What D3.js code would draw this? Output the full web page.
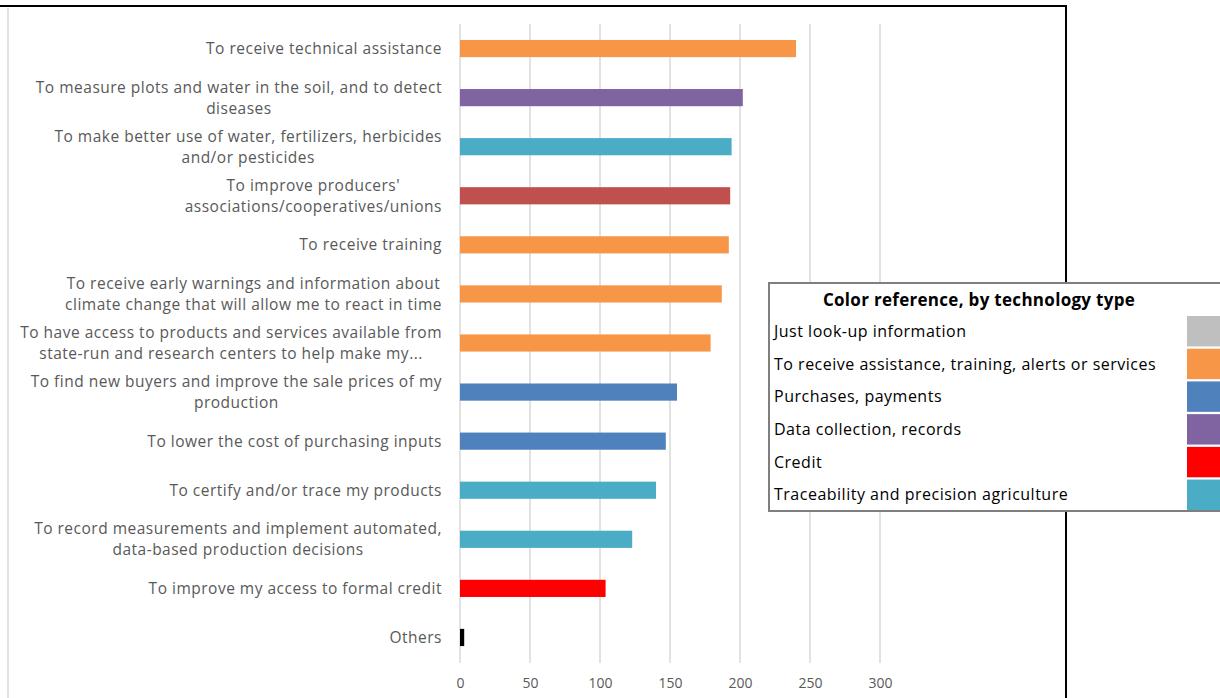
<!DOCTYPE html>
<html>
<head>
<meta charset="utf-8">
<script src="https://cdn.jsdelivr.net/npm/d3@7"></script>
<style>
  html, body { margin: 0; padding: 0; background: #fff; overflow: hidden; }
  svg { display: block; }
  text { font-family: "Open Sans", "Noto Sans", sans-serif; }
</style>
</head>
<body>
<svg id="chart" width="1220" height="698"></svg>
<script>
// Purposes for using digital technology (one entry per bar, top to bottom)
const categories = [
  ["To receive technical assistance"],
  ["To measure plots and water in the soil, and to detect", "diseases"],
  ["To make better use of water, fertilizers, herbicides", "and/or pesticides"],
  ["To improve producers'", "associations/cooperatives/unions"],
  ["To receive training"],
  ["To receive early warnings and information about", "climate change that will allow me to react in time"],
  ["To have access to products and services available from", "state-run and research centers to help make my..."],
  ["To find new buyers and improve the sale prices of my", "production"],
  ["To lower the cost of purchasing inputs"],
  ["To certify and/or trace my products"],
  ["To record measurements and implement automated,", "data-based production decisions"],
  ["To improve my access to formal credit"],
  ["Others"]
];
const values = [240, 202, 194, 193, 192, 187, 179, 155, 147, 140, 123, 104, 3];
const barTypes = ["assist", "data", "trace", "assoc", "assist", "assist", "assist",
                  "purchase", "purchase", "trace", "trace", "credit", "other"];

const xTicks = [0, 50, 100, 150, 200, 250, 300];

// Legend: technology types
const legendLabels = [
  "Just look-up information",
  "To receive assistance, training, alerts or services",
  "Purchases, payments",
  "Data collection, records",
  "Credit",
  "Traceability and precision agriculture"
];
const legendKeys = ["lookup", "assist", "purchase", "data", "credit", "trace"];

const palette = {
  lookup: "#bfbfbf",
  assist: "#f79646",
  purchase: "#4f81bd",
  data: "#8064a2",
  credit: "#ff0000",
  trace: "#4bacc6",
  assoc: "#c0504d",
  other: "#000000"
};

const svg = d3.select("#chart");

const x = d3.scaleLinear().domain([0, 300]).range([460, 880]);
const y = d3.scaleBand().domain(d3.range(categories.length)).range([24, 662]).paddingInner(0.65).paddingOuter(0.325);

// outer frame lines
svg.append("line").attr("x1", 0).attr("x2", 1067).attr("y1", 6).attr("y2", 6)
  .attr("stroke", "#000").attr("stroke-width", 2);
svg.append("line").attr("x1", 1066).attr("x2", 1066).attr("y1", 5).attr("y2", 698)
  .attr("stroke", "#000").attr("stroke-width", 2);
svg.append("line").attr("x1", 8).attr("x2", 8).attr("y1", 8).attr("y2", 698)
  .attr("stroke", "#d9d9d9").attr("stroke-width", 1.5);

// vertical gridlines
svg.append("g").selectAll("line").data(xTicks).join("line")
  .attr("x1", d => x(d)).attr("x2", d => x(d))
  .attr("y1", 24).attr("y2", 663)
  .attr("stroke", "#d9d9d9").attr("stroke-width", 1.5);

// x axis tick labels
const xAxis = d3.axisBottom(x).tickValues(xTicks).tickSize(0).tickPadding(0);
const gx = svg.append("g").attr("transform", "translate(0,678)").call(xAxis);
gx.select(".domain").remove();
gx.selectAll("text").attr("fill", "#595959").style("font-size", "14px")
  .style("font-family", "'Open Sans', 'Noto Sans', sans-serif");

// bars
svg.append("g").selectAll("rect").data(values).join("rect")
  .attr("x", x(0))
  .attr("y", (d, i) => y(i))
  .attr("width", d => x(d) - x(0))
  .attr("height", y.bandwidth())
  .attr("fill", (d, i) => palette[barTypes[i]]);

// category labels: block centred on its widest line, right-aligned to the axis
const labelRight = 442;
const lineGap = 21;
const labels = svg.append("g");
categories.forEach((lines, i) => {
  const cy = y(i) + y.bandwidth() / 2;
  const g = labels.append("g");
  const texts = lines.map((t, k) => g.append("text")
    .attr("y", cy + (k - (lines.length - 1) / 2) * lineGap)
    .attr("dy", "0.35em")
    .attr("text-anchor", "middle")
    .attr("fill", "#595959")
    .style("font-size", "15.5px")
    .style("letter-spacing", "0.5px")
    .text(t));
  const maxW = d3.max(texts, t => t.node().getComputedTextLength());
  texts.forEach(t => t.attr("x", labelRight - maxW / 2));
});

// legend box
const lg = svg.append("g");
lg.append("rect").attr("x", 769).attr("y", 283).attr("width", 470).attr("height", 228)
  .attr("fill", "#fff").attr("stroke", "#7f7f7f").attr("stroke-width", 2);
lg.append("text").attr("x", 979).attr("y", 300).attr("dy", "0.35em")
  .attr("text-anchor", "middle").attr("fill", "#000")
  .style("font-size", "17px").style("font-weight", "bold").style("letter-spacing", "0.3px")
  .text("Color reference, by technology type");
const ly = d3.scaleBand().domain(legendKeys).range([316, 510]).paddingInner(0.07);
lg.selectAll(".sw").data(legendKeys).join("rect").attr("class", "sw")
  .attr("x", 1187).attr("width", 40)
  .attr("y", d => ly(d)).attr("height", ly.bandwidth())
  .attr("fill", d => palette[d]);
lg.selectAll(".lt").data(legendKeys).join("text").attr("class", "lt")
  .attr("x", 774).attr("y", d => ly(d) + ly.bandwidth() / 2).attr("dy", "0.35em")
  .attr("fill", "#000").style("font-size", "16px").style("letter-spacing", "0.5px")
  .text((d, i) => legendLabels[i]);
</script>
</body>
</html>
